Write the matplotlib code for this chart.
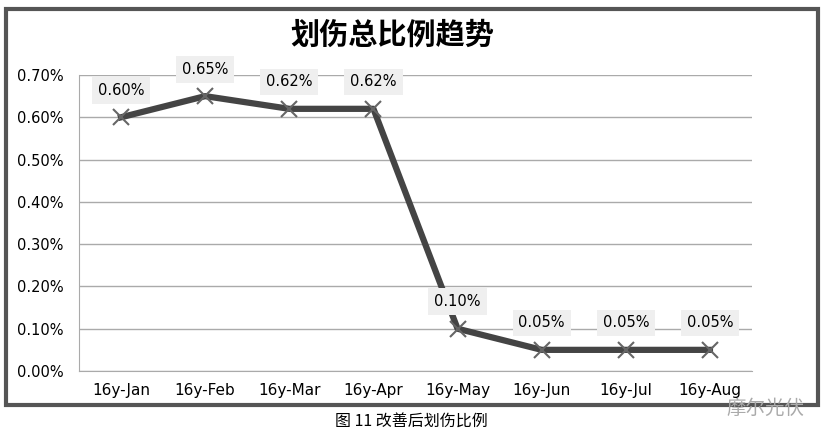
import matplotlib
matplotlib.use("Agg")
import matplotlib.pyplot as plt
from matplotlib.patches import Rectangle
from matplotlib.ticker import FuncFormatter

plt.rcParams['font.family'] = ['DejaVu Sans', 'Noto Sans CJK SC']

categories = ["16y-Jan", "16y-Feb", "16y-Mar", "16y-Apr", "16y-May", "16y-Jun", "16y-Jul", "16y-Aug"]
values = [0.60, 0.65, 0.62, 0.62, 0.10, 0.05, 0.05, 0.05]
labels = ["0.60%", "0.65%", "0.62%", "0.62%", "0.10%", "0.05%", "0.05%", "0.05%"]
yticks = [0.0, 0.1, 0.2, 0.3, 0.4, 0.5, 0.6, 0.7]

fig = plt.figure(figsize=(8.25, 4.41), dpi=100)
fig.patch.set_facecolor("white")

# outer frame
fig.patches.append(Rectangle((6/825, 1-405/441), (818-6)/825, (405-9)/441,
                             transform=fig.transFigure, fill=False,
                             edgecolor="#555555", linewidth=3))

ax = fig.add_axes([79/825, 1-371/441, (752-79)/825, (371-75)/441])
x = list(range(len(categories)))
ax.plot(x, values, color="#444444", linewidth=4.5, zorder=3,
        marker="x", markersize=11, markeredgewidth=1.5, markeredgecolor="#666666")
ax.set_xlim(-0.5, len(categories) - 0.5)
ax.set_ylim(0, 0.7)
ax.set_yticks(yticks)
ax.yaxis.set_major_formatter(FuncFormatter(lambda v, p: f"{v:.2f}%"))
ax.set_xticks(x)
ax.set_xticklabels(categories)
ax.tick_params(axis="both", length=0, labelsize=11, colors="black")
ax.tick_params(axis="y", pad=11, labelsize=10.5)
ax.tick_params(axis="x", pad=9)
ax.grid(axis="y", color="#aaaaaa", linewidth=1)
ax.set_axisbelow(True)
for s in ["top", "right"]:
    ax.spines[s].set_visible(False)
ax.spines["left"].set_color("#aaaaaa")
ax.spines["bottom"].set_color("#aaaaaa")

for xi, v, lab in zip(x, values, labels):
    ax.annotate(lab, (xi, v), xytext=(0, 14), textcoords="offset points",
                ha="center", va="bottom", fontsize=10.5, zorder=4,
                bbox=dict(boxstyle="square,pad=0.4", facecolor="#efefef", edgecolor="none"))

fig.text(392/825, 1-35/441, "划伤总比例趋势", ha="center", va="center",
         fontsize=21, fontweight="bold", family=["Noto Sans CJK SC"])
fig.text(411/825, 1-422/441, "图 11 改善后划伤比例", ha="center", va="center",
         fontsize=11.5, family=["Noto Sans CJK SC"])
fig.text(765/825, 1-408/441, "摩尔光伏", ha="center", va="center",
         fontsize=14, color="#aaaaaa", family=["Noto Sans CJK SC"])

fig.savefig("out.png", dpi=100)
